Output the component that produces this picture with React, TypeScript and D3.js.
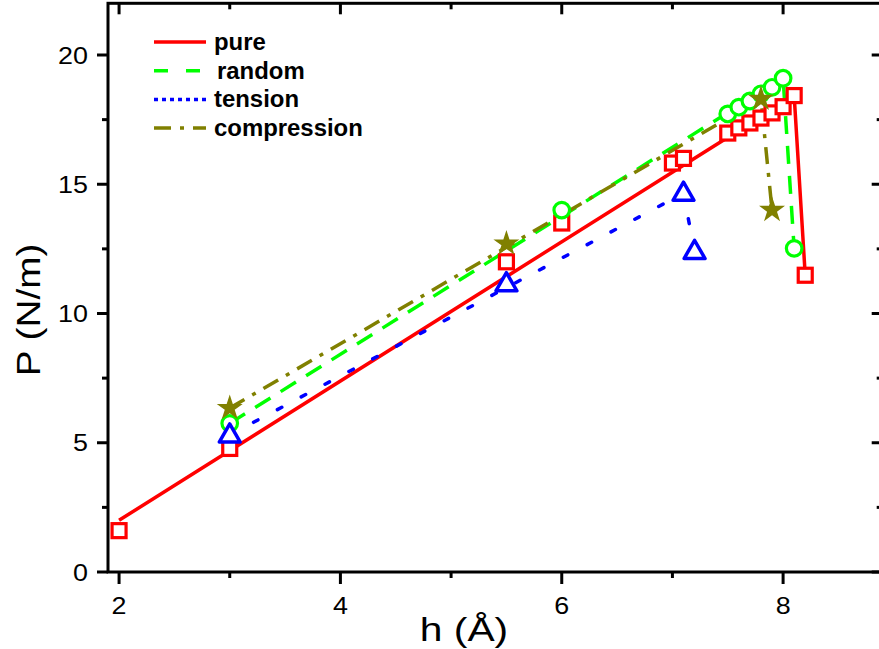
import React, { useEffect, useRef } from "react";
import * as d3 from "d3";

// marker data [h, P]
const pureH = [2, 3, 5.5, 6, 7, 7.1, 7.5, 7.6, 7.7, 7.8, 7.9, 8.0, 8.1, 8.2];
const pureP = [1.6, 4.78, 12.0, 13.5, 15.82, 16.0, 16.98, 17.18, 17.37, 17.56, 17.76, 18.0, 18.43, 11.48];
const randomH = [3, 6, 7.5, 7.6, 7.7, 7.8, 7.9, 8.0, 8.1];
const randomP = [5.75, 14.0, 17.72, 17.98, 18.22, 18.5, 18.75, 19.1, 12.52];
const tensionH = [3, 5.5, 7.1, 7.2];
const tensionP = [5.3, 11.15, 14.65, 12.4];
const compH = [3, 5.5, 7.8, 7.9];
const compP = [6.34, 12.7, 18.3, 14.0];

// line vertices [h, P]
const pureLineH = [2, 8.1, 8.2];
const pureLineP = [2.0, 18.43, 11.48];
const randomLineH = [3, 8.0, 8.1];
const randomLineP = [5.75, 19.1, 12.52];
const tensionLineH = [3, 7.1, 7.2];
const tensionLineP = [5.3, 14.65, 12.4];
const compLineH = [3, 7.8, 7.9];
const compLineP = [6.34, 18.3, 14.0];

const seriesNames = ["pure", "random", "tension", "compression"];
const xMajor = [2, 4, 6, 8];
const xMinor = [3, 5, 7];
const yMajor = [0, 5, 10, 15, 20];
const yMinor = [2.5, 7.5, 12.5, 17.5];

const colors = ["#ff0000", "#00ff00", "#0000ff", "#808000"];
const dashes = [null, "18,12", "5,22", "17,9,4,9"];
const legendDashes = [null, "14,18", "4,4", "17,9,4,9"];

const zip = (a: number[], b: number[]) => a.map((v, i) => [v, b[i]] as [number, number]);

const App = () => {
  const ref = useRef<SVGSVGElement>(null);

  useEffect(() => {
    const svg = d3.select(ref.current);
    svg.selectAll("*").remove();

    const x = d3.scaleLinear().domain([1.9, 8.9]).range([108, 882.7]);
    const y = d3.scaleLinear().domain([0, 22]).range([572, 3.3]);
    const [x0, x1] = x.range();
    const [y0, y1] = y.range();

    const axes = svg.append("g").attr("stroke", "#000").attr("stroke-width", 3);
    // frame
    axes.append("rect").attr("x", x0).attr("y", y1).attr("width", x1 - x0).attr("height", y0 - y1).attr("fill", "none");

    const tick = (x1_: number, y1_: number, x2_: number, y2_: number) =>
      axes.append("line").attr("x1", x1_).attr("y1", y1_).attr("x2", x2_).attr("y2", y2_);

    xMajor.forEach((v) => {
      tick(x(v), y0, x(v), y0 + 12);
      tick(x(v), y1, x(v), y1 + 11);
    });
    xMinor.forEach((v) => {
      tick(x(v), y0, x(v), y0 + 6);
      tick(x(v), y1, x(v), y1 + 6);
    });
    yMajor.forEach((v) => {
      tick(x0 - 11, y(v), x0, y(v));
      tick(x1 - 11, y(v), x1, y(v));
    });
    yMinor.forEach((v) => {
      tick(x0 - 6, y(v), x0, y(v));
      tick(x1 - 6, y(v), x1, y(v));
    });

    const font = "Liberation Sans, Arial, sans-serif";
    const label = (g: any, tx: number, ty: number, text: string, size: number, anchor: string, rot = 0, sx = 1.12, bold = false) =>
      g
        .append("text")
        .attr("transform", `translate(${tx},${ty}) rotate(${rot}) scale(${sx},1)`)
        .attr("text-anchor", anchor)
        .attr("font-family", font)
        .attr("font-size", size)
        .attr("font-weight", bold ? "bold" : "normal")
        .attr("fill", "#000")
        .text(text);

    xMajor.forEach((v) => label(svg, x(v), 614, String(v), 24, "middle"));
    yMajor.forEach((v) => label(svg, 88, y(v) + 8.5, String(v), 24, "end"));
    label(svg, 464, 641, "h (Å)", 34, "middle", 0, 1.2);
    label(svg, 40, 310, "P (N/m)", 34, "middle", -90, 1.14);

    const line = d3
      .line<[number, number]>()
      .x((d) => x(d[0]))
      .y((d) => y(d[1]));

    const lineSets = [
      zip(pureLineH, pureLineP),
      zip(randomLineH, randomLineP),
      zip(tensionLineH, tensionLineP),
      zip(compLineH, compLineP),
    ];
    lineSets.forEach((pts, i) => {
      svg
        .append("path")
        .attr("d", line(pts))
        .attr("fill", "none")
        .attr("stroke", colors[i])
        .attr("stroke-width", 3.5)
        .attr("stroke-dasharray", dashes[i])
        .attr("stroke-linecap", i === 2 ? "round" : "butt");
    });

    // markers
    svg
      .append("g")
      .selectAll("rect")
      .data(zip(pureH, pureP))
      .join("rect")
      .attr("x", (d) => x(d[0]) - 7)
      .attr("y", (d) => y(d[1]) - 7)
      .attr("width", 14)
      .attr("height", 14)
      .attr("fill", "#fff")
      .attr("stroke", colors[0])
      .attr("stroke-width", 3.2);

    svg
      .append("g")
      .selectAll("circle")
      .data(zip(randomH, randomP))
      .join("circle")
      .attr("cx", (d) => x(d[0]))
      .attr("cy", (d) => y(d[1]))
      .attr("r", 7.8)
      .attr("fill", "#fff")
      .attr("stroke", colors[1])
      .attr("stroke-width", 3.2);

    const tri = d3.symbol().type(d3.symbolTriangle).size(190);
    svg
      .append("g")
      .selectAll("path")
      .data(zip(tensionH, tensionP))
      .join("path")
      .attr("d", tri)
      .attr("transform", (d) => `translate(${x(d[0])},${y(d[1]) + 1})`)
      .attr("fill", "#fff")
      .attr("stroke", colors[2])
      .attr("stroke-width", 3.5)
      .attr("stroke-linejoin", "round");

    const star = d3.symbol().type(d3.symbolStar).size(210);
    svg
      .append("g")
      .selectAll("path")
      .data(zip(compH, compP))
      .join("path")
      .attr("d", star)
      .attr("transform", (d) => `translate(${x(d[0])},${y(d[1])})`)
      .attr("fill", colors[3]);

    // legend
    const lg = svg.append("g");
    seriesNames.forEach((name, i) => {
      const ly = 42 + i * 28.7;
      lg.append("line")
        .attr("x1", 154)
        .attr("x2", 206)
        .attr("y1", ly)
        .attr("y2", ly)
        .attr("stroke", colors[i])
        .attr("stroke-width", 3.5)
        .attr("stroke-dasharray", legendDashes[i]);
      label(lg, i === 1 ? 217 : 214, ly + 8, name, 23, "start", 0, 1.04, true);
    });
  }, []);

  return (
    <svg
      ref={ref}
      width={879}
      height={649}
      style={{ position: "absolute", left: 0, top: 0, background: "#fff" }}
    ></svg>
  );
};

export default App;
